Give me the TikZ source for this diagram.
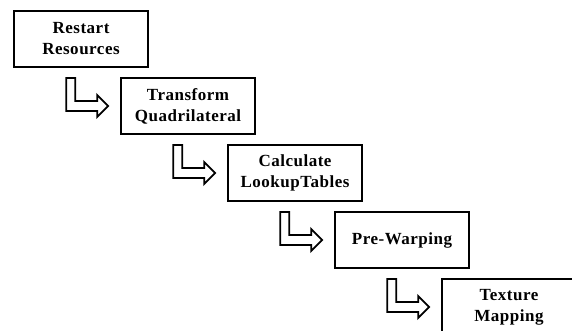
\documentclass[tikz,border=0pt]{standalone}
\usepackage{fontspec}
\setmainfont[LetterSpace=3]{Liberation Serif}
\usetikzlibrary{calc}
\tikzset{
  stage/.style={draw,line width=1.7pt,minimum width=134pt,minimum height=56pt,inner sep=0pt,
    align=center,font=\fontsize{17}{21}\selectfont\bfseries},
  bent/.style={draw,line width=1.7pt,line join=miter,fill=white}
}
\begin{document}
\begin{tikzpicture}[x=1pt,y=-1pt]
  \useasboundingbox (0,0) rectangle (572,331);
  \node[stage] (s1) at (81,39) {Restart\\Resources};
  \node[stage] (s2) at (188,106) {Transform\\Quadrilateral};
  \node[stage] (s3) at (295,173) {Calculate\\LookupTables};
  \node[stage] (s4) at (402,240) {Pre-Warping};
  \node[stage] (s5) at (509,307) {Texture\\Mapping};
  % bent arrows pointing at the next stage
  \foreach \nxt in {s2,s3,s4,s5}{
    \path[bent,shift={($(\nxt.west)+(-12,0)$)}]
      (-42,-28)--(-33,-28)--(-33,-5)--(-11,-5)--(-11,-11)--(0,0)--(-11,11)--(-11,5)--(-42,5)--cycle;
  }
\end{tikzpicture}
\end{document}
